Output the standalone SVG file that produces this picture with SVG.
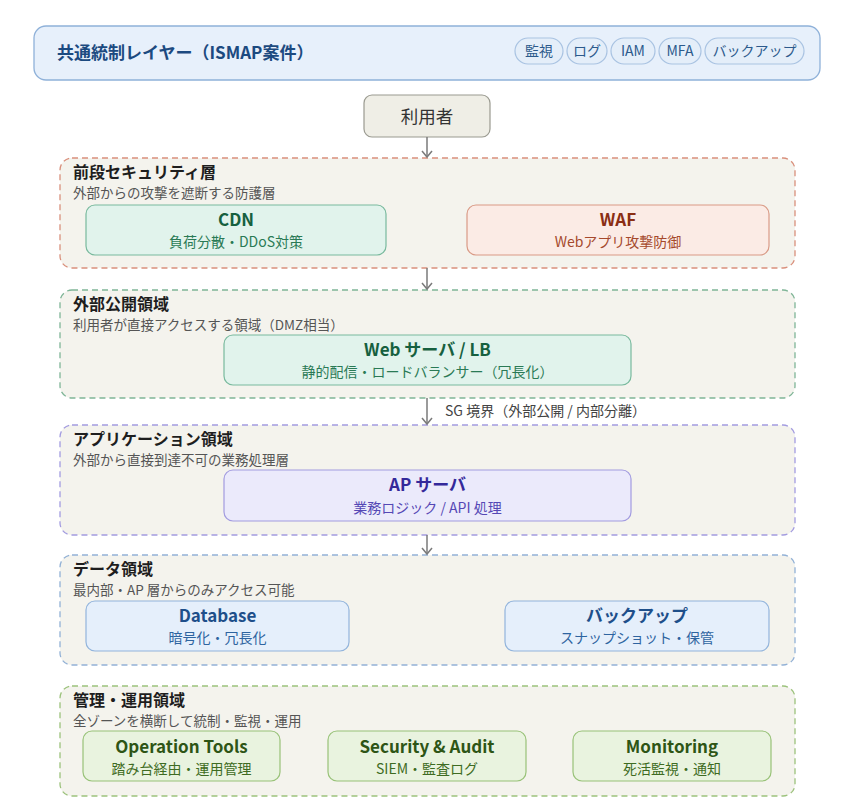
<svg xmlns="http://www.w3.org/2000/svg" width="854" height="809" viewBox="0 0 854 809">
<defs>
<style>
text{font-family:"Noto Sans CJK JP","Noto Sans",sans-serif}
.zone{fill:#f4f3ed;stroke-width:1.3;stroke-dasharray:6 4}
.zt{font-size:16px;font-weight:bold;fill:#1e1e1e}
.zs{font-size:13.5px;fill:#555}
.bt{font-size:17px;font-weight:bold;text-anchor:middle}
.bs{font-size:14px;text-anchor:middle}
.pill{fill:#e4eef9;stroke:#a9c3e2;stroke-width:1.2}
.pt{font-size:14px;fill:#2c5a8c;text-anchor:middle}
.g rect{fill:#e1f3ec;stroke:#78b99d;stroke-width:1.2}
.g .bt{fill:#16603f}.g .bs{fill:#2a7a55}
.r rect{fill:#fbebe5;stroke:#d99a86;stroke-width:1.2}
.r .bt{fill:#8a2e14}.r .bs{fill:#a5492c}
.p rect{fill:#ebeafb;stroke:#a29be0;stroke-width:1.2}
.p .bt{fill:#34299a}.p .bs{fill:#5548b5}
.b rect{fill:#e5effb;stroke:#92b4dc;stroke-width:1.2}
.b .bt{fill:#1e4f8a}.b .bs{fill:#2e64a0}
.m rect{fill:#e9f3df;stroke:#98c278;stroke-width:1.2}
.m .bt{fill:#2e5516}.m .bs{fill:#3e6b22}
.conn line{stroke:#7a7a7a;stroke-width:1.5}
.conn polyline{fill:none;stroke:#7a7a7a;stroke-width:1.5}
</style>
</defs>
<rect width="854" height="809" fill="#ffffff"/>

<g id="common-layer">
<rect x="34" y="26" width="786" height="54" rx="12" fill="#e7f0fb" stroke="#8fb1d9" stroke-width="1.3"/>
<text x="57" y="59" font-size="17" font-weight="bold" fill="#1c4a80">共通統制レイヤー（ISMAP案件）</text>
<rect class="pill" x="515" y="38" width="48" height="26" rx="13"/><text class="pt" x="539" y="56">監視</text>
<rect class="pill" x="567" y="38" width="40" height="26" rx="13"/><text class="pt" x="587" y="56">ログ</text>
<rect class="pill" x="611" y="38" width="44" height="26" rx="13"/><text class="pt" x="633" y="56">IAM</text>
<rect class="pill" x="659" y="38" width="42" height="26" rx="13"/><text class="pt" x="680" y="56">MFA</text>
<rect class="pill" x="705" y="38" width="99" height="26" rx="13"/><text class="pt" x="754.5" y="56">バックアップ</text>
</g>

<g id="user">
<rect x="364" y="95" width="126" height="42" rx="8" fill="#efeee6" stroke="#9a9a90" stroke-width="1.2"/>
<text x="427" y="123" font-size="17.5" fill="#333" text-anchor="middle">利用者</text>
</g>

<g id="zone-front">
<rect class="zone" x="60" y="158" width="735" height="110" rx="12" stroke="#d9907c"/>
<text class="zt" x="73" y="177.5">前段セキュリティ層</text>
<text class="zs" x="73" y="198">外部からの攻撃を遮断する防護層</text>
</g>
<g id="cdn" class="g">
<rect x="86" y="205" width="300" height="50" rx="9"/>
<text class="bt" x="236" y="226">CDN</text>
<text class="bs" x="236" y="247">負荷分散・DDoS対策</text>
</g>
<g id="waf" class="r">
<rect x="467" y="205" width="302" height="50" rx="9"/>
<text class="bt" x="618" y="226">WAF</text>
<text class="bs" x="618" y="247">Webアプリ攻撃防御</text>
</g>

<g id="zone-public">
<rect class="zone" x="60" y="290" width="735" height="108" rx="12" stroke="#7fb597"/>
<text class="zt" x="73" y="309.5">外部公開領域</text>
<text class="zs" x="73" y="330">利用者が直接アクセスする領域（DMZ相当）</text>
</g>
<g id="web" class="g">
<rect x="224" y="335" width="407" height="50" rx="9"/>
<text class="bt" x="427.5" y="356">Web サーバ / LB</text>
<text class="bs" x="427.5" y="377">静的配信・ロードバランサー（冗長化）</text>
</g>

<g id="zone-app">
<rect class="zone" x="60" y="425" width="735" height="110" rx="12" stroke="#a39ce0"/>
<text class="zt" x="73" y="444.5">アプリケーション領域</text>
<text class="zs" x="73" y="465">外部から直接到達不可の業務処理層</text>
</g>
<g id="ap" class="p">
<rect x="224" y="470" width="407" height="51" rx="9"/>
<text class="bt" x="427.5" y="491">AP サーバ</text>
<text class="bs" x="427.5" y="512.5">業務ロジック / API 処理</text>
</g>

<g id="zone-data">
<rect class="zone" x="60" y="555" width="735" height="110" rx="12" stroke="#92b1d6"/>
<text class="zt" x="73" y="574.5">データ領域</text>
<text class="zs" x="73" y="595">最内部・AP 層からのみアクセス可能</text>
</g>
<g id="db" class="b">
<rect x="86" y="601" width="263" height="50" rx="9"/>
<text class="bt" x="217.5" y="622">Database</text>
<text class="bs" x="217.5" y="643">暗号化・冗長化</text>
</g>
<g id="backup" class="b">
<rect x="505" y="601" width="264" height="50" rx="9"/>
<text class="bt" x="637" y="622">バックアップ</text>
<text class="bs" x="637" y="643">スナップショット・保管</text>
</g>

<g id="zone-mgmt">
<rect class="zone" x="60" y="686" width="735" height="110" rx="12" stroke="#9cc27c"/>
<text class="zt" x="73" y="705.5">管理・運用領域</text>
<text class="zs" x="73" y="726">全ゾーンを横断して統制・監視・運用</text>
</g>
<g id="ops" class="m">
<rect x="83" y="731" width="197" height="50" rx="9"/>
<text class="bt" x="181.5" y="753">Operation Tools</text>
<text class="bs" x="181.5" y="774">踏み台経由・運用管理</text>
</g>
<g id="sec" class="m">
<rect x="328" y="731" width="198" height="50" rx="9"/>
<text class="bt" x="427" y="753">Security &amp; Audit</text>
<text class="bs" x="427" y="774">SIEM・監査ログ</text>
</g>
<g id="mon" class="m">
<rect x="573" y="731" width="198" height="50" rx="9"/>
<text class="bt" x="672" y="753">Monitoring</text>
<text class="bs" x="672" y="774">死活監視・通知</text>
</g>

<g id="connectors" class="conn">
<line x1="427" y1="137" x2="427" y2="157"/><polyline points="422,151 427,157 432,151"/>
<line x1="427" y1="268" x2="427" y2="289"/><polyline points="422,283 427,289 432,283"/>
<line x1="427" y1="398" x2="427" y2="424"/><polyline points="422,418 427,424 432,418"/>
<line x1="427" y1="535" x2="427" y2="554"/><polyline points="422,548 427,554 432,548"/>
<text x="445" y="416" font-size="14" fill="#444">SG 境界（外部公開 / 内部分離）</text>
</g>
</svg>
